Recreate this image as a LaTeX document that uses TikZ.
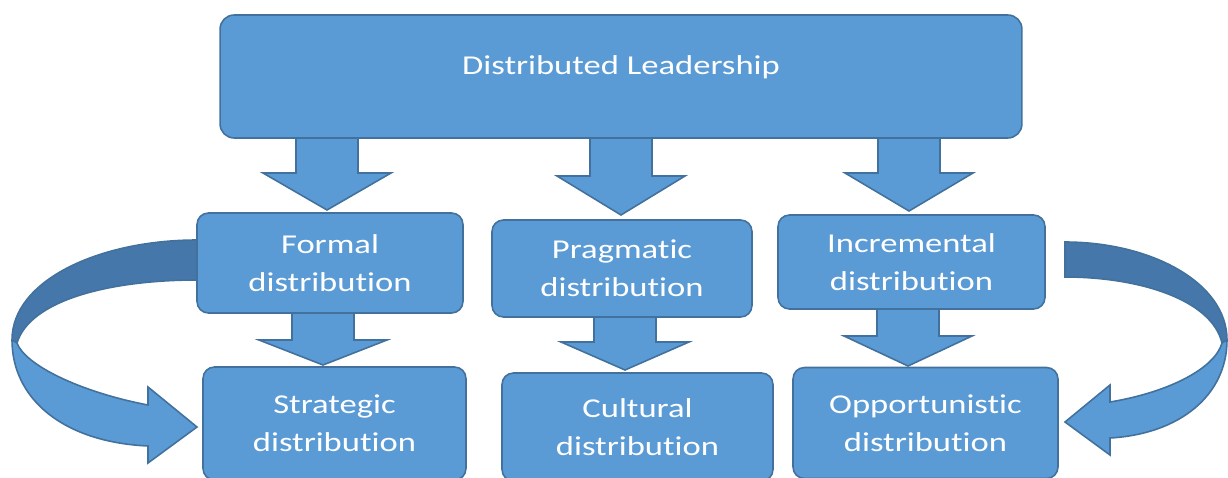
\documentclass[tikz,border=0pt]{standalone}
\usepackage{fontspec}
\setmainfont{Carlito}[FakeStretch=1.27, Ligatures=NoCommon]
\usepackage{xcolor}

\definecolor{boxblue}{HTML}{5B9BD5}
\definecolor{boxedge}{HTML}{41719C}
\definecolor{bandback}{HTML}{4677AA}

% block arrow pointing down: centre x, top, neck, tip
\newcommand{\downblock}[4]{%
  \filldraw[blockarrow] (#1-31,#2) -- (#1+31,#2) -- (#1+31,#3) -- (#1+64,#3)
    -- (#1,#4) -- (#1-64,#3) -- (#1-31,#3) -- cycle;}

\begin{document}
\begin{tikzpicture}[
  x=0.02cm, y=-0.02cm,
  font=\fontsize{15.5}{21.5}\selectfont,
  % ---- boxes -------------------------------------------------------------
  typebox/.style={
    draw=boxedge, line width=0.9pt, fill=boxblue, rounded corners=6.5pt,
    align=center, text=white, inner sep=2pt},
  leadbox/.style={typebox, rounded corners=8pt,
    minimum width=16.04cm, minimum height=2.46cm,
    text height=10pt, text depth=12pt},
  % ---- arrows ------------------------------------------------------------
  blockarrow/.style={draw=boxedge, line width=0.9pt, fill=boxblue, line join=miter},
  bandarrow/.style={draw=boxedge, line width=0.9pt, fill=bandback},
]
\useasboundingbox (0,0) rectangle (1228,477);

% ---- curved arrows on the sides (drawn first, boxes sit on top) ------------
\filldraw[bandarrow] (204,240) -- (197,240) .. controls (100,240) and (12,280) .. (12,340)
  -- (17,343) .. controls (30,300) and (110,280) .. (197,280) -- (204,280) -- cycle;
\filldraw[blockarrow] (12,340) .. controls (12,398) and (62,442) .. (148,446)
  -- (148,463) -- (197,427) -- (148,387) -- (148,405)
  .. controls (80,392) and (25,365) .. (17,343) -- cycle;

\filldraw[bandarrow] (1065,242) .. controls (1150,242) and (1227,282) .. (1227,340)
  -- (1222,343) .. controls (1212,300) and (1140,277) .. (1065,277) -- cycle;
\filldraw[blockarrow] (1227,340) .. controls (1227,395) and (1180,434) .. (1110,438)
  -- (1110,455) -- (1065,422) -- (1110,385) -- (1110,402)
  .. controls (1170,392) and (1215,368) .. (1222,343) -- cycle;

% ---- down arrows -------------------------------------------------------------
\downblock{327}{132}{173}{210}
\downblock{621}{132}{176}{215}
\downblock{909}{132}{173}{211}
\downblock{323}{308}{340}{365}
\downblock{625}{312}{342}{370}
\downblock{908}{304}{336}{366}

% ---- top --------------------------------------------------------------------
\node[leadbox] (lead) at (621,76.5) {Distributed Leadership};

% ---- middle row -------------------------------------------------------------
\node[typebox, minimum width=5.32cm, minimum height=2.00cm] (formal) at (330,263)
  {Formal\\distribution};
\node[typebox, minimum width=5.20cm, minimum height=1.94cm] (pragm) at (622,268.5)
  {Pragmatic\\distribution};
\node[typebox, minimum width=5.34cm, minimum height=1.88cm] (increm) at (911.5,262)
  {Incremental\\distribution};

% ---- bottom row (runs off the lower edge) -----------------------------------
\node[typebox, minimum width=5.26cm, minimum height=2.26cm] (strat) at (334.5,423.5)
  {Strategic\\distribution};
\node[typebox, minimum width=5.42cm, minimum height=2.16cm] (cultur) at (637.5,427)
  {Cultural\\distribution};
\node[typebox, minimum width=5.30cm, minimum height=2.22cm] (opport) at (925.5,423)
  {Opportunistic\\distribution};

\end{tikzpicture}
\end{document}
